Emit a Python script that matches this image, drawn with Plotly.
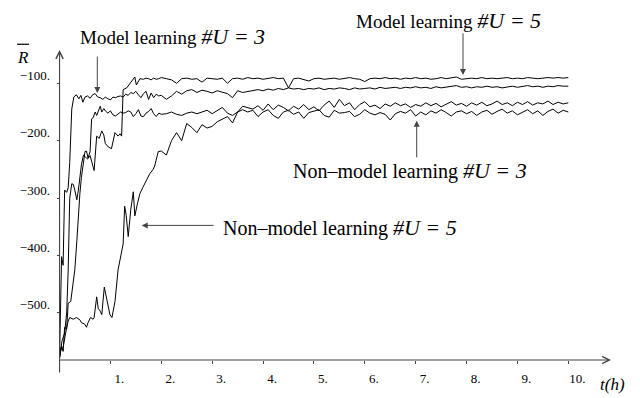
import plotly.graph_objects as go

# ---------------- data ----------------
# shared time grid for the plateau part (hours)
t_late = [round(2.0 + 0.1 * k, 1) for k in range(1, 81)]

# Model learning #U=3
m3_t = [0, 0.04, 0.07, 0.1, 0.14, 0.17, 0.2, 0.24, 0.28, 0.33, 0.38, 0.42, 0.46, 0.5, 0.55,
        0.6, 0.65, 0.7, 0.75, 0.8, 0.85, 0.9, 0.95, 1.0, 1.05, 1.1, 1.15, 1.2, 1.25, 1.3,
        1.35, 1.4, 1.45, 1.5, 1.55, 1.6, 1.65, 1.7, 1.75, 1.8, 1.85, 1.9, 1.95, 2.0]
m3_early = [-578, -402, -417, -286, -290, -282, -238, -145, -124, -120, -127, -121, -133, -124, -122,
            -126, -120, -118, -124, -125, -128, -124, -127, -129, -124, -125, -123, -122, -124, -119,
            -121, -116, -118, -114, -120, -125, -118, -114, -128, -117, -125, -119, -122, -121]
m3_late = [-128, -122, -114, -119, -113, -111, -116, -112, -114, -117,
           -113, -115, -118, -125, -113, -116, -114, -112, -111, -113,
           -110, -112, -109, -111, -108, -110, -109, -111, -109, -110,
           -108, -111, -109, -110, -108, -109, -111, -108, -110, -109,
           -108, -110, -107, -109, -108, -107, -109, -107, -108, -106,
           -108, -107, -109, -106, -108, -107, -106, -104, -107, -106,
           -108, -106, -107, -105, -107, -106, -108, -106, -105, -107,
           -106, -104, -106, -105, -107, -105, -106, -104, -105, -105]

# Model learning #U=5
m5_t = [0, 0.05, 0.1, 0.14, 0.17, 0.2, 0.24, 0.27, 0.3, 0.34, 0.37, 0.4, 0.43, 0.47, 0.5,
        0.55, 0.6, 0.64, 0.68, 0.73, 0.78, 0.83, 0.87, 0.9, 0.96, 1.02, 1.09, 1.15, 1.19, 1.22,
        1.25, 1.32, 1.38, 1.45, 1.48, 1.51, 1.58, 1.65, 1.7, 1.75, 1.8, 1.85, 1.9, 1.95, 2.0]
m5_early = [-578, -548, -535, -500, -425, -300, -275, -276, -286, -303, -286, -264, -242, -225, -228,
            -232, -226, -238, -252, -192, -196, -183, -190, -205, -211, -214, -186, -192, -188, -192,
            -111, -108, -100, -92, -89, -103, -92, -93, -91, -92, -94, -91, -93, -92, -90]
m5_late = [-92, -94, -100, -92, -91, -93, -92, -98, -91, -92,
           -93, -91, -100, -92, -91, -93, -90, -92, -91, -93,
           -92, -90, -92, -91, -108, -92, -91, -93, -96, -92,
           -91, -93, -92, -91, -93, -92, -90, -92, -93, -97,
           -92, -91, -92, -90, -92, -91, -93, -91, -92, -90,
           -92, -91, -93, -92, -90, -92, -91, -89, -93, -92,
           -91, -92, -90, -92, -91, -92, -91, -90, -92, -91,
           -92, -90, -91, -92, -91, -90, -91, -90, -91, -90]

# Non-model learning #U=3
n3_t = [0, 0.04, 0.07, 0.1, 0.14, 0.17, 0.22, 0.25, 0.3, 0.34, 0.37, 0.4, 0.43, 0.47, 0.5,
        0.53, 0.56, 0.6, 0.63, 0.66, 0.7, 0.73, 0.77, 0.8, 0.83, 0.87, 0.9, 0.95, 1.0, 1.05,
        1.1, 1.15, 1.2, 1.25, 1.3, 1.35, 1.4, 1.45, 1.5, 1.55, 1.6, 1.65, 1.7, 1.75, 1.8,
        1.85, 1.9, 1.95, 2.0]
n3_early = [-578, -558, -567, -525, -528, -483, -480, -458, -425, -375, -325, -292, -264, -242, -219,
            -218, -230, -219, -162, -160, -150, -156, -145, -140, -150, -144, -148, -152, -148, -155,
            -157, -154, -150, -152, -151, -148, -150, -158, -153, -146, -157, -158, -152, -149, -144,
            -153, -158, -152, -154]
n3_late = [-153, -150, -154, -156, -152, -150, -153, -150, -147, -153,
           -148, -142, -152, -156, -150, -146, -150, -147, -158, -150,
           -146, -156, -161, -150, -147, -154, -150, -161, -151, -148,
           -146, -156, -159, -147, -152, -151, -149, -158, -154, -146,
           -152, -155, -151, -154, -164, -153, -149, -152, -146, -157,
           -150, -155, -148, -152, -146, -151, -157, -150, -148, -153,
           -149, -156, -150, -147, -154, -149, -145, -152, -148, -155,
           -150, -146, -153, -148, -156, -149, -145, -152, -147, -150]

# Non-model learning #U=5
n5_t = [0, 0.03, 0.06, 0.1, 0.13, 0.17, 0.2, 0.27, 0.33, 0.4, 0.43, 0.49, 0.53, 0.56, 0.61,
        0.66, 0.68, 0.73, 0.76, 0.8, 0.83, 0.88, 0.92, 0.99, 1.03, 1.09, 1.15, 1.22, 1.25, 1.28,
        1.31, 1.35, 1.4, 1.45, 1.48, 1.53, 1.58, 1.64, 1.71, 1.77, 1.84, 1.87, 1.94, 2.0]
n5_early = [-578, -560, -565, -540, -530, -514, -508, -511, -508, -512, -517, -519, -525, -517, -508,
            -511, -508, -472, -492, -497, -503, -455, -475, -503, -508, -480, -425, -392, -380, -314,
            -330, -367, -320, -289, -331, -310, -292, -281, -269, -258, -250, -244, -219, -218]
n5_late = [-225, -200, -186, -200, -170, -177, -186, -172, -178, -175,
           -167, -162, -158, -169, -150, -140, -142, -145, -139, -147,
           -136, -146, -138, -142, -148, -140, -145, -137, -146, -141,
           -148, -138, -131, -142, -128, -139, -134, -146, -137, -132,
           -141, -138, -144, -136, -140, -134, -139, -136, -142, -137,
           -140, -134, -139, -135, -141, -136, -132, -138, -135, -140,
           -134, -138, -133, -139, -136, -131, -137, -134, -139, -133,
           -137, -132, -138, -134, -136, -131, -137, -133, -136, -134]

x_tick_vals = [1, 2, 3, 4, 5, 6, 7, 8, 9, 10]
x_tick_text = ["1.", "2.", "3.", "4.", "5.", "6.", "7.", "8.", "9.", "10."]
y_tick_vals = [-500, -400, -300, -200, -100]
y_tick_text = ["\u2212500.", "\u2212400.", "\u2212300.", "\u2212200.", "\u2212100."]

series = [
    (m3_t, m3_early, m3_late),
    (m5_t, m5_early, m5_late),
    (n3_t, n3_early, n3_late),
    (n5_t, n5_early, n5_late),
]

# ---------------- layout geometry ----------------
W, H = 640, 398
ML, MR, MT, MB = 57, 31, 50, 24
XR = [-0.05, 10.8]
YR = [-582, -42]
PW = W - ML - MR
PH = H - MT - MB


def px_x(xp):  # pixel -> paper fraction
    return (xp - ML) / PW


def px_y(yp):
    return (H - MB - yp) / PH


SERIF = "Liberation Serif, Times New Roman, serif"
AX_COL = "#444444"

fig = go.Figure()
for te, ve, vl in series:
    fig.add_trace(go.Scatter(x=te + t_late, y=ve + vl, mode="lines",
                             line=dict(color="black", width=1),
                             showlegend=False, hoverinfo="skip"))

ann = []
y0_px = ML + (0 - XR[0]) / (XR[1] - XR[0]) * PW
# axes with arrow heads
ann.append(dict(x=px_x(y0_px), y=px_y(50), xref="paper", yref="paper",
                ax=0, ay=H - MB - 50, axref="pixel", ayref="pixel",
                text="", showarrow=True, arrowhead=5, arrowsize=1.3, arrowwidth=1.1,
                arrowcolor=AX_COL))
ann.append(dict(x=px_x(611), y=px_y(H - MB), xref="paper", yref="paper",
                ax=-(611 - y0_px + 1), ay=0, axref="pixel", ayref="pixel",
                text="", showarrow=True, arrowhead=5, arrowsize=1.3, arrowwidth=1.1,
                arrowcolor=AX_COL))


def label(txt, xp, yp):
    ann.append(dict(x=px_x(xp), y=px_y(yp), xref="paper", yref="paper", text=txt,
                    showarrow=False, xanchor="left", yanchor="middle",
                    font=dict(family=SERIF, color="black")))


def arrow(xh, yh, xt, yt):
    ann.append(dict(x=px_x(xh), y=px_y(yh), ax=xt - xh, ay=yt - yh, xref="paper", yref="paper",
                    axref="pixel", ayref="pixel", text="", showarrow=True, arrowhead=2,
                    arrowsize=1.2, arrowwidth=1, arrowcolor=AX_COL))


def lab_txt(main, num, size_main, size_it):
    return (f"<span style='font-size:{size_main}px'>{main} </span>"
            f"<span style='font-size:{size_it}px'><i>#U = {num}</i></span>")


label(lab_txt("Model learning", 3, 19, 22), 78, 36)
arrow(97.3, 95, 97.3, 57)
label(lab_txt("Model learning", 5, 19, 22), 354, 19)
arrow(463, 76, 463, 33)
label(lab_txt("Non\u2013model learning", 3, 20, 22), 291, 176)
arrow(416.7, 124, 416.7, 162)
label(lab_txt("Non\u2013model learning", 5, 20, 22), 221, 235)
arrow(141.7, 233.3, 215, 233.3)

# axis titles
ann.append(dict(x=px_x(23), y=px_y(58), xref="paper", yref="paper", text="<i>R</i>",
                showarrow=False, xanchor="center", yanchor="middle",
                font=dict(family=SERIF, size=17, color="black")))
ann.append(dict(x=px_x(612), y=0, yshift=-24, xref="paper", yref="paper", text="<i>t(h)</i>",
                showarrow=False, xanchor="center", yanchor="middle",
                font=dict(family=SERIF, size=17, color="black")))

shapes = [dict(type="line", xref="paper", yref="paper", x0=px_x(17), x1=px_x(29),
               y0=px_y(44), y1=px_y(44), line=dict(color="black", width=1.2))]

fig.update_layout(
    width=W, height=H,
    margin=dict(l=ML, r=MR, t=MT, b=MB, pad=0),
    paper_bgcolor="white", plot_bgcolor="white",
    showlegend=False,
    annotations=ann,
    shapes=shapes,
    xaxis=dict(range=XR, showgrid=False, zeroline=False, showline=False,
               ticks="outside", ticklen=3, tickwidth=1, tickcolor=AX_COL,
               tickvals=x_tick_vals, ticktext=x_tick_text, ticklabelshift=9,
               ticklabelstandoff=3,
               tickfont=dict(family=SERIF, size=13, color="black"), fixedrange=True),
    yaxis=dict(range=YR, showgrid=False, zeroline=False, showline=False,
               anchor="free", position=(0 - XR[0]) / (XR[1] - XR[0]),
               ticks="outside", ticklen=3, tickwidth=1, tickcolor=AX_COL,
               tickvals=y_tick_vals, ticktext=y_tick_text, ticklabelshift=-8,
               ticklabelstandoff=4,
               tickfont=dict(family=SERIF, size=13, color="black"), fixedrange=True),
)

fig.write_html("out.html")
